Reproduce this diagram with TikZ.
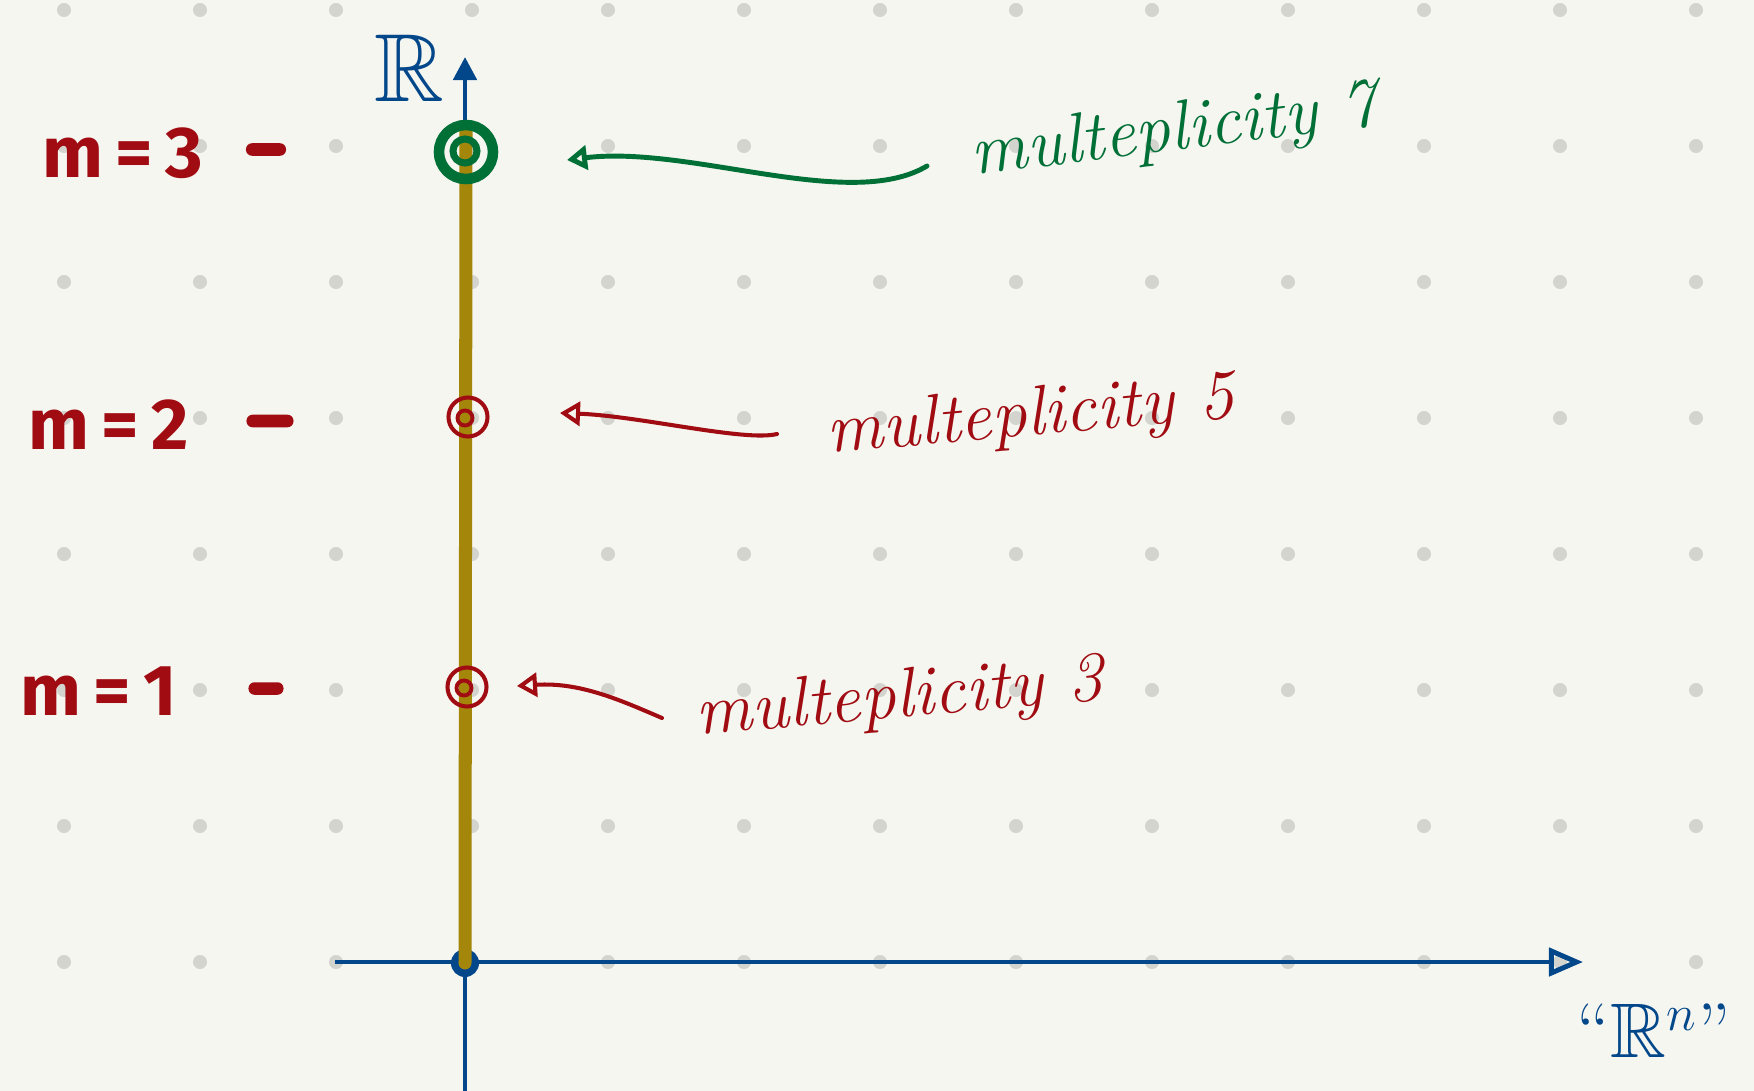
\documentclass[tikz,border=0pt]{standalone}
\usepackage{fontspec}
\usepackage{amssymb}
\usepackage{tikz}
\newfontfamily\markfont{Fira Sans}
\definecolor{PaperBg}{RGB}{246,246,241}
\definecolor{DotGray}{RGB}{212,212,207}
\definecolor{AxisBlue}{RGB}{2,71,138}
\definecolor{RayOlive}{RGB}{163,134,10}
\definecolor{MultGreen}{RGB}{0,112,55}
\definecolor{MultRed}{RGB}{160,12,18}
\usetikzlibrary{arrows.meta}

\begin{document}
\begin{tikzpicture}[x=0.01cm, y=-0.01cm,
      every node/.style={inner sep=0pt},
      griddot/.style={fill=DotGray},
      axis/.style={draw=AxisBlue, line width=1.4pt},
      ray/.style={draw=RayOlive, line width=3.7pt, line cap=round},
      ring/.style={circle, draw, inner sep=0pt},
      mlabel/.style={text=MultRed, font=\markfont\bfseries\fontsize{20.5}{24}\selectfont, anchor=base west},
      tick/.style={fill=MultRed, rounded corners=0.06cm, minimum height=0.125cm},
      mult/.style={font=\fontsize{20}{24}\selectfont\itshape, anchor=base west},
      pointer/.style={-{Triangle[open,length=0.2cm,width=0.24cm]}, line cap=round, line width=1.15pt},
      rlabel/.style={text=AxisBlue, font=\fontsize{25}{30}\selectfont}
  ]
    \fill[PaperBg] (0,0) rectangle (1754,1091);
    \useasboundingbox (0,0) rectangle (1754,1091);
    \foreach \i in {0,...,12}
      \foreach \j in {0,...,8}
        \fill[griddot] (64+136*\i,10+136*\j) circle[radius=0.07cm];

    \coordinate (xs) at (335,962);
    \coordinate (xe) at (1583,962);
    \coordinate (ys) at (465,1100);
    \coordinate (ye) at (465,57);
    \coordinate (rtop) at (466,132);
    \draw[axis, -{Triangle[length=0.23cm,width=0.23cm]}] (ys) -- (ye);
    \draw[axis, -{Triangle[open,length=0.34cm,width=0.28cm]}] (xs) -- (xe);
    \node[circle, fill=AxisBlue, minimum size=0.28cm] (o) at (465,963) {};
    \draw[ray] (o.center) -- (rtop);

    \node[ring, draw=MultGreen, line width=3pt, minimum size=0.54cm] (c3) at (466,152) {};
    \node[ring, draw=MultGreen, line width=2pt, minimum size=0.24cm] (c3i) at (465,151) {};
    \node[ring, draw=MultRed, line width=1.15pt, minimum size=0.39cm] (c2) at (468,417) {};
    \node[ring, draw=MultRed, line width=1.1pt, minimum size=0.15cm] (c2i) at (465,418) {};
    \node[ring, draw=MultRed, line width=1.15pt, minimum size=0.39cm] (c1) at (467,687) {};
    \node[ring, draw=MultRed, line width=1.1pt, minimum size=0.15cm] (c1i) at (464,688) {};

    \node[mlabel] (m3) at (42,178) {m\,=\,3};
    \node[mlabel] (m2) at (28,449) {m\,=\,2};
    \node[mlabel] (m1) at (20,715) {m\,=\,1};
    \node[tick, minimum width=0.4cm] (t3) at (266,149.5) {};
    \node[tick, minimum width=0.47cm] (t2) at (270,421) {};
    \node[tick, minimum width=0.35cm] (t1) at (266,688.5) {};

    \node[mult, text=MultGreen, rotate=7] (lab3) at (973,175) {multeplicity 7};
    \node[mult, text=MultRed, rotate=5] (lab2) at (828,453) {multeplicity 5};
    \node[mult, text=MultRed, rotate=5] (lab1) at (697,735) {multeplicity 3};

    \coordinate (a3) at (927,166);
    \coordinate (h3) at (567,160);
    \coordinate (a2) at (777,434);
    \coordinate (h2) at (560,413);
    \coordinate (a1) at (662,718);
    \coordinate (h1) at (517,686);
    \draw[pointer, MultGreen, line width=1.4pt] (a3) .. controls (850,212) and (690,145) .. (h3);
    \draw[pointer, MultRed] (a2) .. controls (745,442) and (640,416) .. (h2);
    \draw[pointer, MultRed] (a1) .. controls (620,700) and (580,682) .. (h1);

    \node[rlabel, scale=1.1] (ylab) at (409,68) {$\mathbb{R}$};
    \node[rlabel, font=\fontsize{22}{26}\selectfont, anchor=base west] (xlab) at (1576,1057) {``$\mathbb{R}^{n}$''};
  \end{tikzpicture}
\end{document}
